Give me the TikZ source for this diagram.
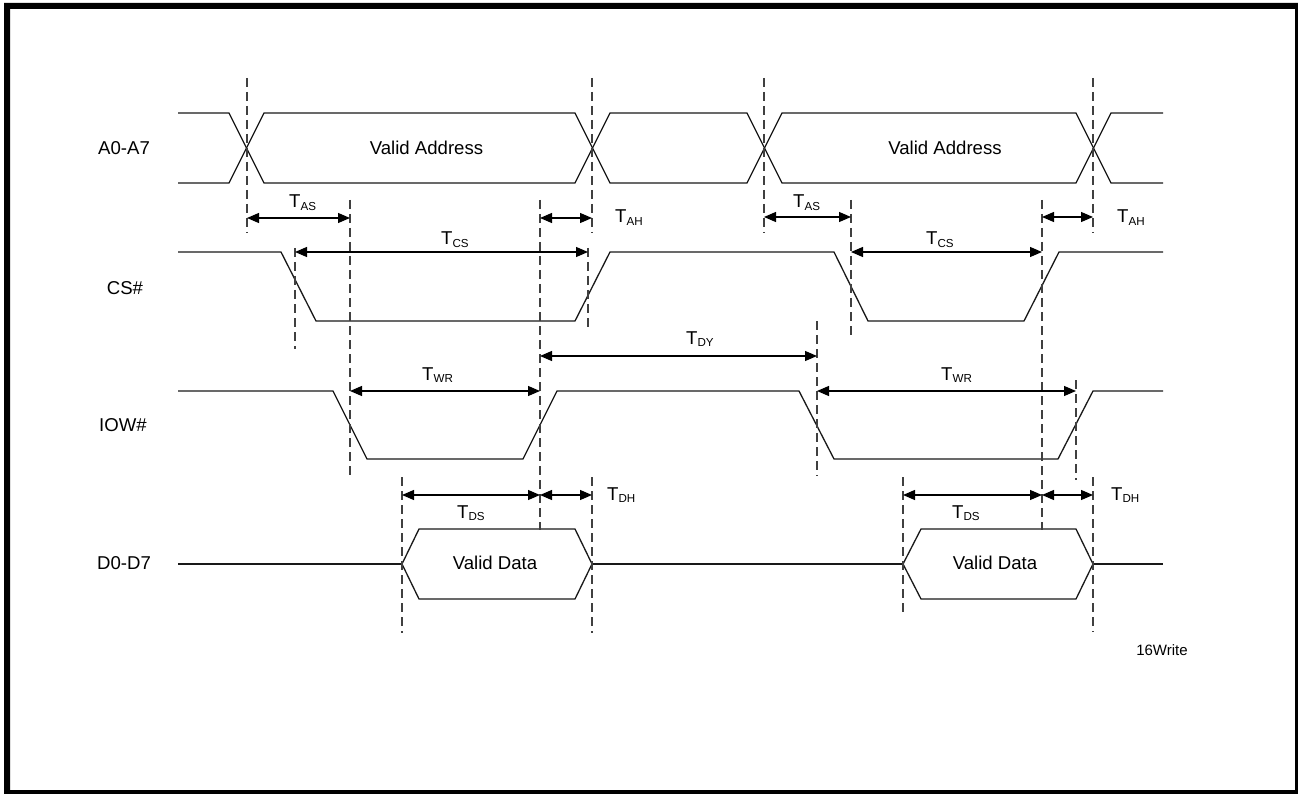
\documentclass[tikz,border=0pt]{standalone}
\usepackage{fontspec}
\setmainfont{Liberation Sans}
\usetikzlibrary{arrows.meta}
\newcommand{\tsub}[1]{T\raisebox{-2.6pt}{\fontsize{11.6}{12}\selectfont #1}}
\tikzset{
  sig/.style={line width=1.3pt, draw=black!90, line join=miter},
  guide/.style={line width=1.2pt, draw=black!75, dash pattern=on 9pt off 5pt},
  dim/.style={line width=1.2pt, draw=black, {Triangle[length=12pt,width=10pt]}-{Triangle[length=12pt,width=10pt]}},
  lbl/.style={font=\fontsize{18.6}{20}\selectfont, inner sep=0pt, anchor=base},
  tlbl/.style={font=\fontsize{18.6}{20}\selectfont, inner sep=0pt, anchor=base west},
  note/.style={font=\fontsize{15}{16}\selectfont, inner sep=0pt, anchor=base}
}
\begin{document}
\begin{tikzpicture}[x=1pt,y=-1pt]
\useasboundingbox (0,0) rectangle (1298,794);
\fill[white] (0,0) rectangle (1298,794);
\fill[black, even odd rule] (4,3) rectangle (1298,794) (10,9) rectangle (1295,790);

% signal names
\node[lbl] (nA) at (124,154.7) {A0-A7};
\node[lbl] (nCS) at (125,294.7) {CS\#};
\node[lbl] (nIOW) at (123,431.7) {IOW\#};
\node[lbl] (nD) at (124,569.7) {D0-D7};

% A0-A7 bus
\draw[sig] (178,113) -- (229,113) -- (264,183) -- (575,183) -- (610,113) -- (747,113) -- (782,183) -- (1076,183) -- (1111,113) -- (1163,113);
\draw[sig] (178,183) -- (229,183) -- (264,113) -- (575,113) -- (610,183) -- (747,183) -- (782,113) -- (1076,113) -- (1111,183) -- (1163,183);
\node[lbl] (va1) at (426.5,154.7) {Valid Address};
\node[lbl] (va2) at (945,154.7) {Valid Address};

% CS#
\draw[sig] (178,252) -- (281,252) -- (316,321) -- (575,321) -- (610,252) -- (834,252) -- (868,321) -- (1024,321) -- (1059,252) -- (1163,252);

% IOW#
\draw[sig] (178,391) -- (333,391) -- (367,459) -- (523,459) -- (557,391) -- (799,391) -- (834,459) -- (1058,459) -- (1093,391) -- (1163,391);

% D0-D7
\draw[sig] (178,564) -- (402,564);
\draw[sig] (402,564) -- (419,529) -- (575,529) -- (592,564) -- (575,599) -- (419,599) -- cycle;
\draw[sig] (592,564) -- (903,564);
\draw[sig] (903,564) -- (921,529) -- (1076,529) -- (1093,564) -- (1076,599) -- (921,599) -- cycle;
\draw[sig] (1093,564) -- (1163,564);
\node[lbl] (vd1) at (495,569.7) {Valid Data};
\node[lbl] (vd2) at (995,569.7) {Valid Data};

% guide lines
\draw[guide] (247,78) -- (247,233);
\draw[guide] (592,78) -- (592,233);
\draw[guide] (764,78) -- (764,233);
\draw[guide] (1093,78) -- (1093,233);
\draw[guide] (350,200) -- (350,477);
\draw[guide] (540,200) -- (540,530);
\draw[guide] (295,248) -- (295,349);
\draw[guide] (588,248) -- (588,330);
\draw[guide] (851,200) -- (851,339);
\draw[guide] (1042,200) -- (1042,530);
\draw[guide] (817,321) -- (817,476);
\draw[guide] (1076,380) -- (1076,480);
\draw[guide] (402,477) -- (402,633);
\draw[guide] (592,477) -- (592,633);
\draw[guide] (903,477) -- (903,615);
\draw[guide] (1093,477) -- (1093,632);

% arrow end points
\coordinate (as1a) at (247,218);  \coordinate (as1b) at (350,218);
\coordinate (ah1a) at (540,218);  \coordinate (ah1b) at (592,218);
\coordinate (cs1a) at (295,252);  \coordinate (cs1b) at (588,252);
\coordinate (as2a) at (764,217);  \coordinate (as2b) at (851,217);
\coordinate (ah2a) at (1042,217); \coordinate (ah2b) at (1093,217);
\coordinate (cs2a) at (851,252);  \coordinate (cs2b) at (1042,252);
\coordinate (dya)  at (540,356);  \coordinate (dyb)  at (817,356);
\coordinate (wr1a) at (350,391);  \coordinate (wr1b) at (540,391);
\coordinate (wr2a) at (817,391);  \coordinate (wr2b) at (1076,391);
\coordinate (ds1a) at (402,495);  \coordinate (ds1b) at (540,495);
\coordinate (dh1a) at (540,495);  \coordinate (dh1b) at (592,495);
\coordinate (ds2a) at (903,495);  \coordinate (ds2b) at (1042,495);
\coordinate (dh2a) at (1042,495); \coordinate (dh2b) at (1093,495);

\draw[dim] (as1a) -- (as1b);
\draw[dim] (ah1a) -- (ah1b);
\draw[dim] (cs1a) -- (cs1b);
\draw[dim] (as2a) -- (as2b);
\draw[dim] (ah2a) -- (ah2b);
\draw[dim] (cs2a) -- (cs2b);
\draw[dim] (dya) -- (dyb);
\draw[dim] (wr1a) -- (wr1b);
\draw[dim] (wr2a) -- (wr2b);
\draw[dim] (ds1a) -- (ds1b);
\draw[dim] (dh1a) -- (dh1b);
\draw[dim] (ds2a) -- (ds2b);
\draw[dim] (dh2a) -- (dh2b);

% timing labels
\node[tlbl] (tas1) at (289,208) {\tsub{AS}};
\node[tlbl] (tas2) at (793,208) {\tsub{AS}};
\node[tlbl] (tah1) at (615,223) {\tsub{AH}};
\node[tlbl] (tah2) at (1117,223) {\tsub{AH}};
\node[tlbl] (tcs1) at (441,245) {\tsub{CS}};
\node[tlbl] (tcs2) at (926,245) {\tsub{CS}};
\node[tlbl] (tdy)  at (686,344) {\tsub{DY}};
\node[tlbl] (twr1) at (422,380) {\tsub{WR}};
\node[tlbl] (twr2) at (941,380) {\tsub{WR}};
\node[tlbl] (tds1) at (457,518) {\tsub{DS}};
\node[tlbl] (tds2) at (952,518) {\tsub{DS}};
\node[tlbl] (tdh1) at (607,500) {\tsub{DH}};
\node[tlbl] (tdh2) at (1111,500) {\tsub{DH}};

\node[note] (fig) at (1162,655.4) {16Write};
\end{tikzpicture}
\end{document}
